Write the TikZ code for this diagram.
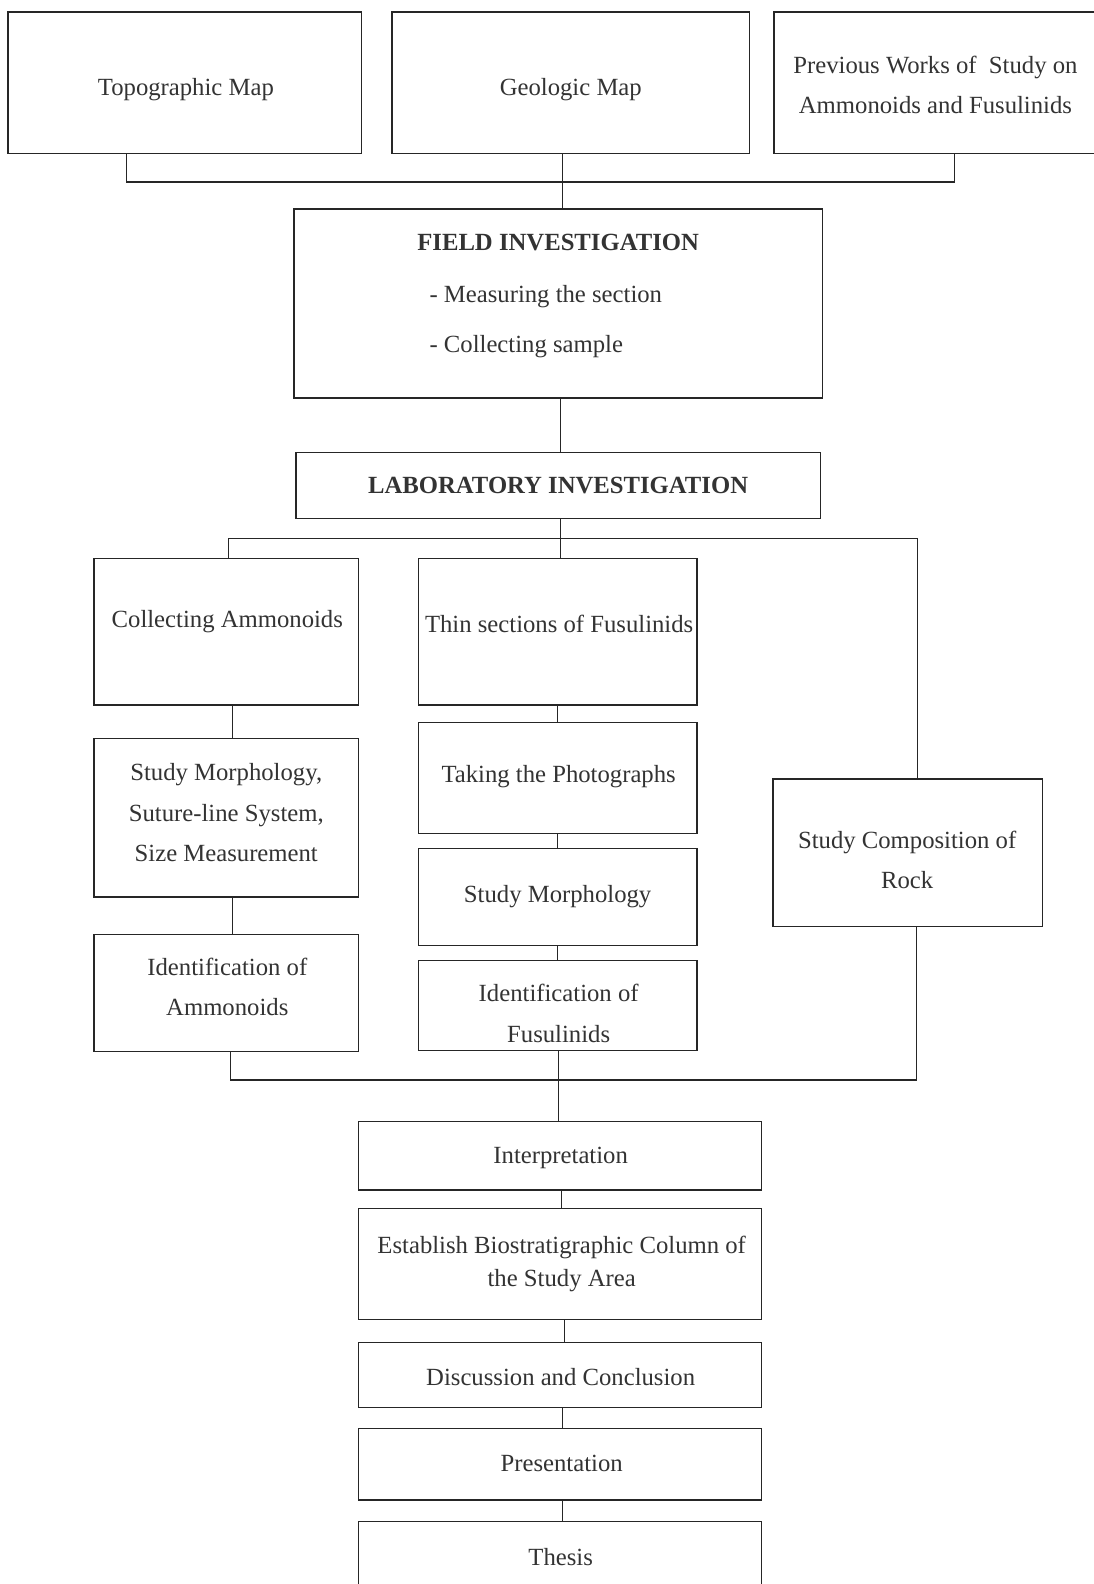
\documentclass[tikz,border=0pt]{standalone}
\usepackage{fontspec}
\setmainfont{Liberation Serif}
\usetikzlibrary{fit}
\begin{document}
\begin{tikzpicture}[x=1.0102pt, y=-1.0102pt,
  box/.style={draw=black!85, line width=1.4pt, inner sep=0pt},
  link/.style={draw=black!85, line width=1.4pt},
  txt/.style={inner sep=0pt, yshift=-2pt, text=black!80, align=center, font=\fontsize{24.7}{40.4}\selectfont},
  txttight/.style={txt, font=\fontsize{24.7}{33.3}\selectfont},
  head/.style={inner sep=0pt, text=black!80, font=\fontsize{24.7}{30}\selectfont\bfseries},
  bullet/.style={inner sep=0pt, yshift=-2pt, text=black!80, anchor=west, font=\fontsize{24.7}{30}\selectfont}]
\useasboundingbox (0,0) rectangle (1082,1568);
\fill[white] (0,0) rectangle (1082,1568);

% top row
\node[box, fit={(8,12) (358,152)}] (topo) {};
\node[box, fit={(388,12) (742,152)}] (geo) {};
\node[box, fit={(766,12) (1092,152)}] (prev) {};
\node[txt] (topo-t) at (184,87) {Topographic Map};
\node[txt] (geo-t) at (565,87) {Geologic Map};
\node[txt] (prev-t) at (926,82) {Previous Works of\ \ Study on\\Ammonoids and Fusulinids};

% field
\node[box, fit={(291,207) (814,394)}] (field) {};
\node[head] (field-t) at (552.5,240) {FIELD INVESTIGATION};
\node[bullet] (field-b1) at (425,292) {- Measuring the section};
\node[bullet] (field-b2) at (425,341) {- Collecting sample};

% lab
\node[box, fit={(293,448) (812,513)}] (lab) {};
\node[head] (lab-t) at (552.5,481) {LABORATORY INVESTIGATION};

% left column
\node[box, fit={(93,553) (355,698)}] (colA) {};
\node[txt] (colA-t) at (225,613) {Collecting Ammonoids};
\node[box, fit={(93,731) (355,888)}] (morA) {};
\node[txt] (morA-t) at (224,802.5) {Study Morphology,\\Suture-line System,\\Size Measurement};
\node[box, fit={(93,925) (355,1041)}] (idA) {};
\node[txt] (idA-t) at (225,975) {Identification of\\Ammonoids};

% middle column
\node[box, fit={(414,553) (690,698)}] (thin) {};
\node[txt] (thin-t) at (553.5,616) {Thin sections of Fusulinids};
\node[box, fit={(414,715) (690,825)}] (photo) {};
\node[txt] (photo-t) at (553,767) {Taking the Photographs};
\node[box, fit={(414,840) (690,936)}] (morF) {};
\node[txt] (morF-t) at (552,886) {Study Morphology};
\node[box, fit={(414,951) (690,1040)}] (idF) {};
\node[txt] (idF-t) at (553,1001) {Identification of\\Fusulinids};

% right
\node[box, fit={(765,771) (1032,917)}] (comp) {};
\node[txt] (comp-t) at (898,849) {Study Composition of\\Rock};

% bottom chain
\node[box, fit={(355,1110) (754,1178)}] (interp) {};
\node[txt] (interp-t) at (555,1144) {Interpretation};
\node[box, fit={(355,1196) (754,1306)}] (estab) {};
\node[txttight] (estab-t) at (556,1249.5) {Establish Biostratigraphic Column of\\the Study Area};
\node[box, fit={(355,1329) (754,1393)}] (disc) {};
\node[txt] (disc-t) at (555,1361) {Discussion and Conclusion};
\node[box, fit={(355,1414) (754,1485)}] (pres) {};
\node[txt] (pres-t) at (556,1447) {Presentation};
\node[box, fit={(355,1506) (754,1590)}] (thesis) {};
\node[txt] (thesis-t) at (555,1539) {Thesis};

% connectors
\coordinate (busTop) at (557,180);
\draw[link] (topo.south -| 125,0) |- (busTop) -| (prev.south -| 945,0);
\draw[link] (geo.south -| busTop) -- (field.north -| busTop);
\draw[link] (field.south -| 555,0) -- (lab.north -| 555,0);

\coordinate (busLab) at (555,533);
\draw[link] (colA.north -| 226,0) |- (busLab) -| (comp.north -| 908,0);
\draw[link] (lab.south -| busLab) -- (thin.north -| busLab);

\draw[link] (colA.south -| 230,0) -- (morA.north -| 230,0);
\draw[link] (morA.south -| 230,0) -- (idA.north -| 230,0);

\draw[link] (thin.south -| 552,0) -- (photo.north -| 552,0);
\draw[link] (photo.south -| 552,0) -- (morF.north -| 552,0);
\draw[link] (morF.south -| 552,0) -- (idF.north -| 552,0);

\coordinate (busBot) at (553,1069);
\draw[link] (idA.south -| 228,0) |- (busBot) -| (comp.south -| 907,0);
\draw[link] (idF.south -| busBot) -- (interp.north -| busBot);

\draw[link] (interp.south -| 556,0) -- (estab.north -| 556,0);
\draw[link] (estab.south -| 559,0) -- (disc.north -| 559,0);
\draw[link] (disc.south -| 557,0) -- (pres.north -| 557,0);
\draw[link] (pres.south -| 557,0) -- (thesis.north -| 557,0);
\end{tikzpicture}
\end{document}
